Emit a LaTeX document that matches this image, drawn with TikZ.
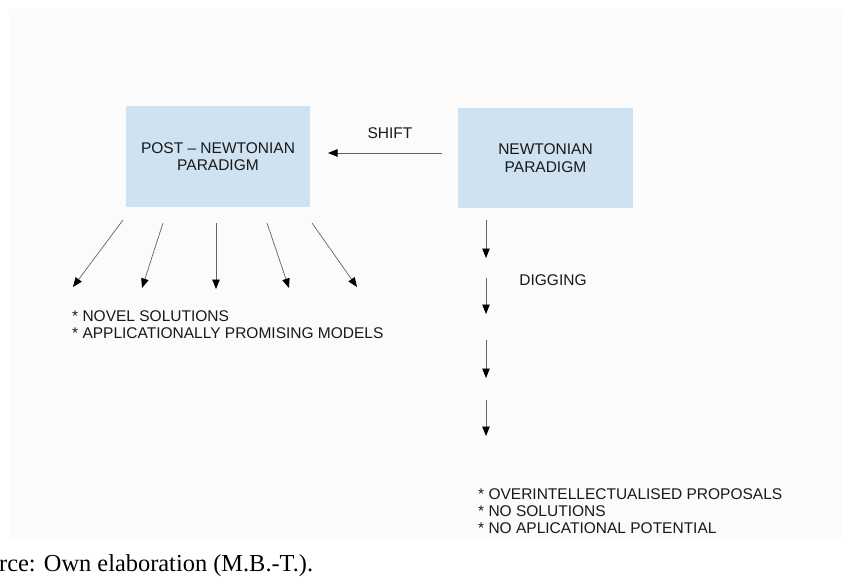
\documentclass[tikz,border=0pt]{standalone}
\usepackage{fontspec}
\setmainfont{Liberation Sans}
\newfontfamily\capserif{Liberation Serif}
\usetikzlibrary{arrows.meta}
\definecolor{boxblue}{RGB}{206,226,241}
\definecolor{bgc}{RGB}{251,251,251}
\definecolor{txt}{RGB}{25,25,25}
\definecolor{linec}{RGB}{100,100,100}
\tikzset{
  box/.style={fill=boxblue, draw=none, align=center, text=txt, inner sep=0pt,
    font=\fontsize{15.5}{17.5}\selectfont},
  lbl/.style={text=txt, inner sep=0pt, font=\fontsize{15.5}{17.5}\selectfont},
  listtxt/.style={text=txt, inner sep=0pt, align=left, anchor=north west,
    font=\fontsize{15.5}{17.2}\selectfont},
  arr/.style={draw=linec, line width=0.7pt, -{Triangle[length=9.5pt,width=7.5pt,color=black]}}
}
\begin{document}
\begin{tikzpicture}[x=1pt,y=-1pt]
\useasboundingbox (0,0) rectangle (843,578);
\fill[white] (0,0) rectangle (843,578);
\fill[bgc] (9,9) rectangle (843,539);

% boxes
\node[box, minimum width=184pt, minimum height=101pt] (lbox) at (218,156.5) {POST -- NEWTONIAN\\PARADIGM};
\node[box, minimum width=175pt, minimum height=100pt] (rbox) at (545.5,158) {NEWTONIAN\\PARADIGM};

% shift
\coordinate (s0) at (442,153);
\coordinate (s1) at (328,153);
\draw[arr] (s0) -- (s1);
\node[lbl] (shift) at (390,133) {SHIFT};

% fan arrows
\coordinate (f1a) at (123,220); \coordinate (f1b) at (73,287);
\coordinate (f2a) at (163,223); \coordinate (f2b) at (142,288);
\coordinate (f3a) at (216,223); \coordinate (f3b) at (216,289);
\coordinate (f4a) at (267,223); \coordinate (f4b) at (289,288);
\coordinate (f5a) at (312,223); \coordinate (f5b) at (357,287);
\draw[arr] (f1a) -- (f1b);
\draw[arr] (f2a) -- (f2b);
\draw[arr] (f3a) -- (f3b);
\draw[arr] (f4a) -- (f4b);
\draw[arr] (f5a) -- (f5b);

\node[listtxt] (novel) at (72,310) {* NOVEL SOLUTIONS\\* APPLICATIONALLY PROMISING MODELS};

% digging arrows
\coordinate (d1a) at (486,220); \coordinate (d1b) at (486,258);
\coordinate (d2a) at (486,278); \coordinate (d2b) at (486,314);
\coordinate (d3a) at (486,340); \coordinate (d3b) at (486,378);
\coordinate (d4a) at (486,400); \coordinate (d4b) at (486,436);
\draw[arr] (d1a) -- (d1b);
\draw[arr] (d2a) -- (d2b);
\draw[arr] (d3a) -- (d3b);
\draw[arr] (d4a) -- (d4b);
\node[lbl] (dig) at (553,280) {DIGGING};

\node[listtxt] (over) at (478,488) {* OVERINTELLECTUALISED PROPOSALS\\* NO SOLUTIONS\\* NO APLICATIONAL POTENTIAL};

% caption
\node[anchor=base west, inner sep=0pt, text=black, font=\capserif\fontsize{24.4}{28}\selectfont] (cap) at (-1,571) {rce: Own elaboration (M.B.-T.).};
\end{tikzpicture}
\end{document}
